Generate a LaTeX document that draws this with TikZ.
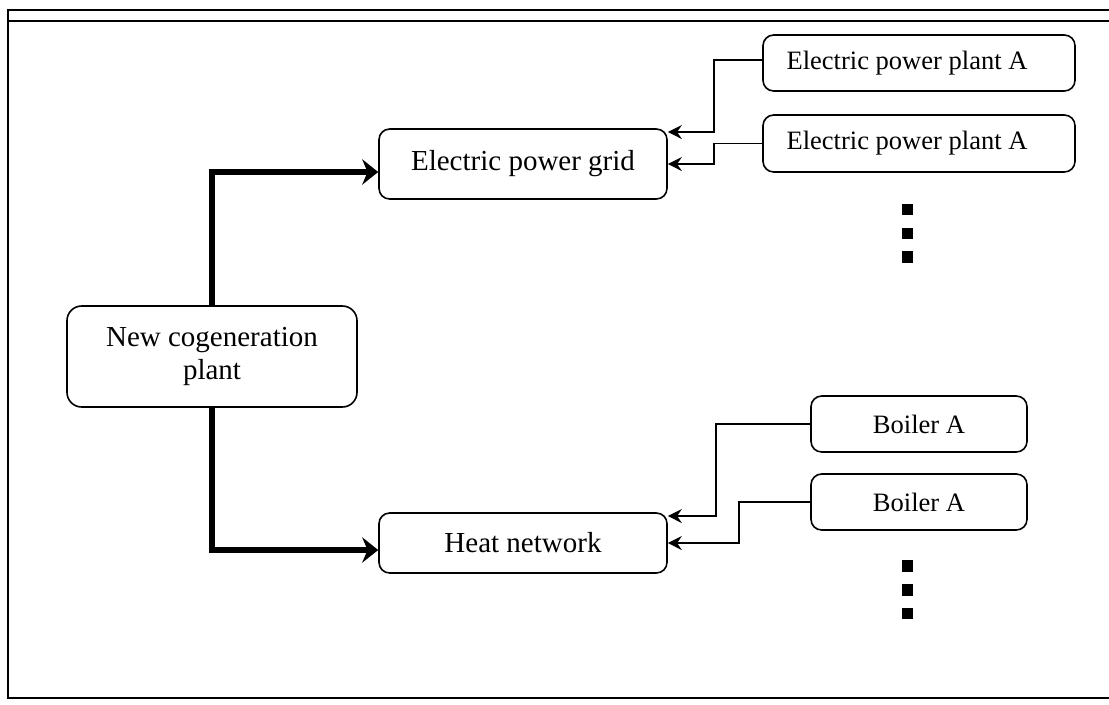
\documentclass[tikz,border=0pt]{standalone}
\usepackage{fontspec}
\setmainfont{Liberation Serif}
\usetikzlibrary{arrows.meta,calc}
\begin{document}
\begin{tikzpicture}[x=0.75pt,y=-0.75pt,
  box/.style={draw,line width=1.2pt,rounded corners=8pt,align=center,inner sep=0pt},
  bigbox/.style={box,font=\fontsize{21.75pt}{24.75pt}\selectfont},
  smallbox/.style={box,font=\fontsize{19.9pt}{23pt}\selectfont},
  mainflow/.style={line width=4.2pt,-{Stealth[length=12pt,width=19pt,inset=4pt]}},
  feed/.style={line width=1.2pt,-{Stealth[length=10.5pt,width=10.5pt,inset=3.5pt]}},
  frameline/.style={line width=2pt},
  dotsq/.style={fill=black,minimum size=8.6pt,inner sep=0pt}]
\useasboundingbox (0,0) rectangle (1109,704);
% frame
\draw[frameline] (1109,10) -- (8,10) -- (8,699);
\draw[frameline] (8,21) -- (1109,21);
\draw[frameline] (8,698) -- (1109,698);
% nodes
\node[bigbox,minimum width=217.5pt,minimum height=75.75pt,rounded corners=11pt] (cogen) at (212,356.5) {New cogeneration\\plant};
\node[bigbox,minimum width=216pt,minimum height=52.5pt] (grid) at (523,164) {Electric power grid};
\node[bigbox,minimum width=216pt,minimum height=45pt] (heat) at (523,543) {Heat network};
\node[smallbox,minimum width=234pt,minimum height=42pt] (epp1) at (919,63) {Electric power plant A\hspace*{18pt}};
\node[smallbox,minimum width=234pt,minimum height=42.75pt] (epp2) at (919,143.5) {Electric power plant A\hspace*{18pt}};
\node[smallbox,minimum width=162pt,minimum height=42pt] (b1) at (919,424) {Boiler A};
\node[smallbox,minimum width=162pt,minimum height=42pt] (b2) at (919,502) {Boiler A};
% dots
\node[dotsq] (d1) at (907.5,209.5) {};
\node[dotsq] (d2) at (907.5,233.7) {};
\node[dotsq] (d3) at (907.5,257) {};
\node[dotsq] (d4) at (907.5,566) {};
\node[dotsq] (d5) at (907.5,590) {};
\node[dotsq] (d6) at (907.5,613.5) {};
% connectors
\draw[mainflow] (cogen.north) |- ([yshift=-6pt]grid.west);
\draw[mainflow] (cogen.south) |- ([yshift=-5.25pt]heat.west);
\draw[feed] ([yshift=2.25pt]epp1.west) -- ++(-48,0) |- ([yshift=24pt]grid.east);
\draw[feed] (epp2.west) -- ++(-48,0) |- (grid.east);
\draw[feed] (b1.west) -- ++(-94,0) |- ([yshift=20.25pt]heat.east);
\draw[feed] (b2.west) -- ++(-71,0) |- (heat.east);
\end{tikzpicture}
\end{document}
